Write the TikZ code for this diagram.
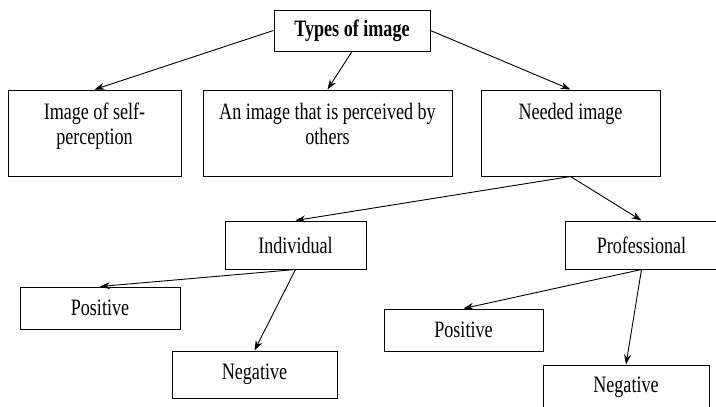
\documentclass[tikz,border=0pt]{standalone}
\usepackage{fontspec}
\setmainfont{Liberation Serif}[FakeStretch=0.77]
\usetikzlibrary{arrows.meta}
\begin{document}
\begin{tikzpicture}[x=1pt, y=-1pt, font=\fontsize{23.5}{25}\selectfont,
    box/.style={draw, line width=1pt, inner sep=0pt, align=center},
    topbox/.style={box, text height=29.5pt, text depth=56.5pt},
    twobox/.style={box, text height=54.5pt, text depth=31.5pt},
    link/.style={-{Stealth[length=10pt, width=7pt]}, line width=0.9pt}]
    \useasboundingbox (0,0) rectangle (716,407);
    % top
    \node[box, minimum width=156pt, minimum height=41pt, font=\fontsize{23.5}{25}\selectfont\bfseries] (types) at (352,30.5) {Types of image};
    % second row
    \node[twobox, minimum width=173pt] (self) at (94.5,133) {Image of self-\\perception};
    \node[twobox, minimum width=249pt] (others) at (327.5,133) {An image that is perceived by\\others};
    \node[topbox, minimum width=179pt] (needed) at (570.5,133) {Needed image};
    % needed image split
    \node[box, minimum width=141pt, minimum height=48pt] (indiv) at (295.5,245) {Individual};
    \node[box, minimum width=153pt, minimum height=48pt] (prof) at (641.5,245) {Professional};
    \node[box, minimum width=160pt, minimum height=42pt] (posA) at (100,308) {Positive};
    \node[box, minimum width=165pt, minimum height=47pt] (negA) at (254.5,374.5) {Negative};
    \node[box, minimum width=159pt, minimum height=42pt] (posB) at (463.5,330) {Positive};
    \node[box, minimum width=166pt, minimum height=44pt] (negB) at (626,387) {Negative};
    % arrows
    \draw[link] (types.west) -- (self.north);
    \draw[link] (types.south) -- (others.north);
    \draw[link] (types.east) -- (needed.north);
    \draw[link] (needed.south) -- (indiv.north);
    \draw[link] (needed.south) -- (prof.north);
    \draw[link] (indiv.south) -- (posA.north);
    \draw[link] (indiv.south) -- (negA.north);
    \draw[link] (prof.south) -- (posB.north);
    \draw[link] (prof.south) -- (negB.north);
\end{tikzpicture}
\end{document}
